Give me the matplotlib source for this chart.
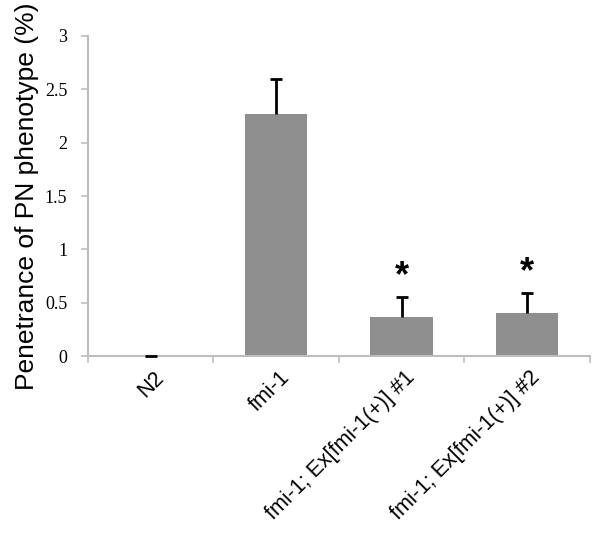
import matplotlib
matplotlib.use("Agg")
import matplotlib.pyplot as plt
import numpy as np

# data
strains = ["N2", "fmi-1", "fmi-1; Ex[fmi-1(+)] #1", "fmi-1; Ex[fmi-1(+)] #2"]
penetrance = [0.0, 2.27, 0.365, 0.40]
sem = [0.0, 0.33, 0.19, 0.19]
significant = [False, False, True, True]
yticks = [0, 0.5, 1, 1.5, 2, 2.5, 3]
yticklabels = ["0", "0.5", "1", "1.5", "2", "2.5", "3"]

fig = plt.figure(figsize=(6, 5.37), dpi=100)
ax = fig.add_axes([0.1467, 0.337, 0.836, 0.596])

x = np.arange(len(strains))
pen = np.array(penetrance)
err = np.array(sem)
ax.bar(x, pen, width=0.5, color="#8f8f8f", zorder=2)
# upward-only error bars with a cap on top
ax.vlines(x, pen, pen + err, color="black", linewidth=2, zorder=3)
ax.plot(x, pen + err, linestyle="none", marker="_", markersize=8,
        markeredgewidth=2, color="black", zorder=4, clip_on=False)

for xi, p, s, sig in zip(x, pen, err, significant):
    if sig:
        ax.text(xi, p + s + 0.19, "*", ha="center", va="center",
                fontsize=26, fontweight="bold", family="Liberation Sans")

ax.set_xlim(-0.5, len(strains) - 0.5)
ax.set_ylim(0, 3)
ax.set_yticks(yticks)
ax.set_yticklabels(yticklabels, family="Liberation Serif", fontsize=13)
ax.set_xticks(np.arange(len(strains) + 1) - 0.5)
ax.set_xticklabels([""] * (len(strains) + 1))
ax.tick_params(axis="x", length=5, color="#bdbdbd", width=1.2)
ax.tick_params(axis="y", length=5, color="#bdbdbd", width=1.2, pad=10)

for xi, name in zip(x, strains):
    ax.text(xi + 0.08, -0.17, name, rotation=45, rotation_mode="anchor",
            ha="right", va="center", fontsize=15.5, family="Liberation Sans",
            clip_on=False)

ax.set_ylabel("Penetrance of PN phenotype (%)", family="Liberation Sans",
              fontsize=19, labelpad=4)

for side in ["top", "right"]:
    ax.spines[side].set_visible(False)
for side in ["left", "bottom"]:
    ax.spines[side].set_color("#bdbdbd")
    ax.spines[side].set_linewidth(1.5)

fig.savefig("out.png", dpi=100)
